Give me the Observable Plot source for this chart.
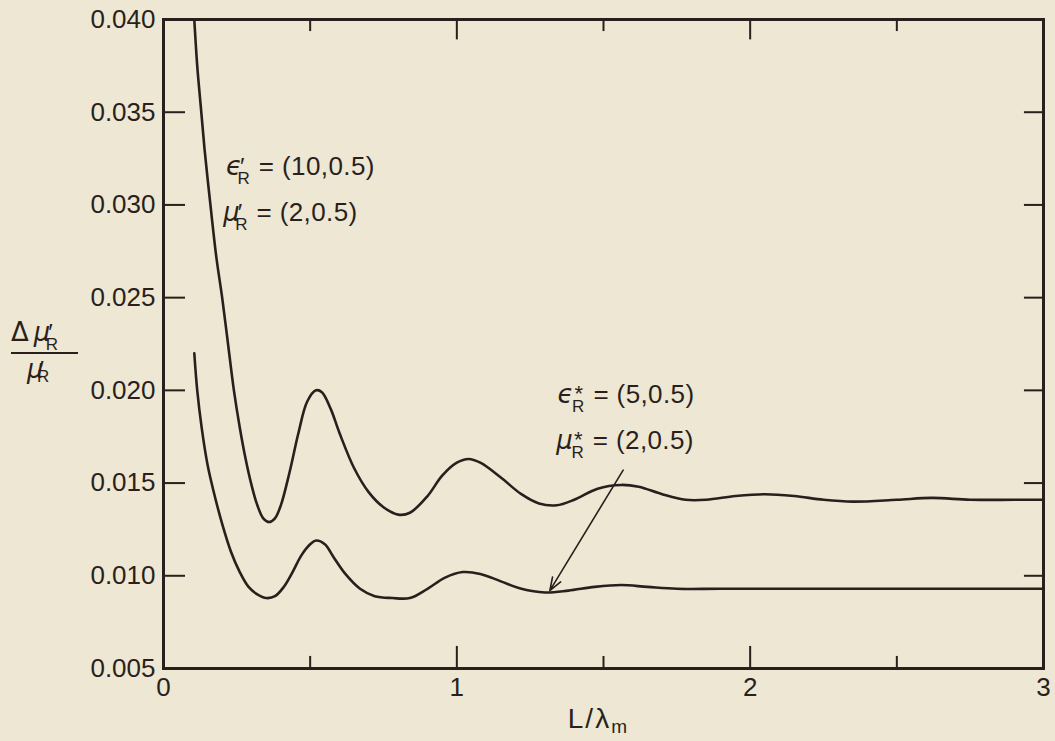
<!DOCTYPE html>
<html>
<head>
<meta charset="utf-8">
<script src="https://cdn.jsdelivr.net/npm/d3@7"></script>
<script src="https://cdn.jsdelivr.net/npm/@observablehq/plot@0.6"></script>
<style>
  html, body { margin: 0; padding: 0; background: #ede7d3; }
  #chart { width: 1055px; height: 741px; }
</style>
</head>
<body>
<div id="chart"></div>
<script>
// ---- data ----
const upperL = [0.105,0.115,0.126,0.14,0.16,0.18,0.20,0.22,0.24,0.26,0.28,0.30,0.32,0.34,0.36,0.38,0.40,0.43,0.46,0.49,0.52,0.54,0.57,0.60,0.65,0.70,0.75,0.80,0.84,0.90,0.95,1.00,1.04,1.08,1.15,1.22,1.28,1.34,1.40,1.48,1.56,1.62,1.70,1.78,1.85,1.95,2.05,2.15,2.25,2.35,2.50,2.62,2.75,2.90,3.00];
const upperV = [0.0400,0.0375,0.0355,0.0330,0.0300,0.0272,0.0250,0.0225,0.0200,0.0180,0.0163,0.0149,0.0138,0.0131,0.0129,0.0131,0.0138,0.0156,0.0177,0.0194,0.0200,0.0199,0.0190,0.0177,0.0158,0.0145,0.0137,0.0133,0.0134,0.0143,0.0154,0.0161,0.0163,0.0161,0.0153,0.0144,0.0139,0.0138,0.0141,0.0147,0.0149,0.0148,0.0144,0.0141,0.0141,0.0143,0.0144,0.0143,0.0141,0.0140,0.0141,0.0142,0.0141,0.0141,0.0141];

const lowerL = [0.105,0.115,0.13,0.15,0.17,0.20,0.23,0.26,0.29,0.32,0.35,0.38,0.41,0.44,0.47,0.50,0.52,0.55,0.58,0.62,0.67,0.72,0.78,0.84,0.90,0.96,1.02,1.08,1.15,1.22,1.30,1.38,1.47,1.56,1.65,1.75,1.90,2.20,2.60,3.00];
const lowerV = [0.0220,0.0200,0.0180,0.0160,0.0146,0.0128,0.0113,0.0102,0.0094,0.0090,0.0088,0.0089,0.0094,0.0102,0.0111,0.0117,0.0119,0.0117,0.0110,0.0101,0.0093,0.0089,0.0088,0.0088,0.0093,0.0099,0.0102,0.0101,0.0097,0.0093,0.0091,0.0092,0.0094,0.0095,0.0094,0.0093,0.0093,0.0093,0.0093,0.0093];

const yTicks = [0.005,0.010,0.015,0.020,0.025,0.030,0.035,0.040];
const xTickLabels = [0,1,2,3];
const xMajorTicks = [1,2];
const xMinorTicks = [0.5,1.5,2.5];

// arrow from the second annotation to the lower curve
const arrowFrom = [1.567, 0.0157];
const arrowTo = [1.317, 0.0092];

// annotation anchors (data coordinates, left/baseline)
const ann1 = [[0.215, 0.0316], [0.205, 0.0291]];
const ann2 = [[1.345, 0.0193], [1.341, 0.0168]];

const ink = "#2a1f1c";
const upper = upperL.map((L, i) => ({L, v: upperV[i]}));
const lower = lowerL.map((L, i) => ({L, v: lowerV[i]}));

const chart = Plot.plot({
  width: 1055,
  height: 741,
  marginLeft: 163,
  marginRight: 12,
  marginTop: 19,
  marginBottom: 73,
  x: {domain: [0, 3]},
  y: {domain: [0.005, 0.040]},
  style: {background: "#ede7d3", color: ink, fontFamily: "'Liberation Sans', Arial, sans-serif", fontSize: "26px"},
  marks: [
    Plot.axisY({ticks: yTicks, tickSize: 0, tickPadding: 8, tickFormat: d3.format(".3f"), fontSize: 26, label: null}),
    Plot.axisX({ticks: xTickLabels, tickSize: 0, tickPadding: 9, tickFormat: d => String(d), fontSize: 26, label: null}),
    // inward ticks, left and right
    Plot.ruleY(yTicks.slice(1, -1), {y: d => d, x1: 0, x2: 0.075, stroke: ink, strokeWidth: 2}),
    Plot.ruleY(yTicks.slice(1, -1), {y: d => d, x1: 3 - 0.065, x2: 3, stroke: ink, strokeWidth: 2}),
    // inward ticks, bottom and top
    Plot.ruleX(xMajorTicks, {x: d => d, y1: 0.005, y2: 0.005 + 0.00119, stroke: ink, strokeWidth: 2}),
    Plot.ruleX(xMinorTicks, {x: d => d, y1: 0.005, y2: 0.005 + 0.00065, stroke: ink, strokeWidth: 2}),
    Plot.ruleX(xMajorTicks, {x: d => d, y1: 0.040, y2: 0.040 - 0.00110, stroke: ink, strokeWidth: 2}),
    Plot.ruleX(xMinorTicks, {x: d => d, y1: 0.040, y2: 0.040 - 0.00065, stroke: ink, strokeWidth: 2}),
    Plot.line(upper, {x: "L", y: "v", curve: "catmull-rom", stroke: ink, strokeWidth: 2.6, clip: true}),
    Plot.line(lower, {x: "L", y: "v", curve: "catmull-rom", stroke: ink, strokeWidth: 2.6, clip: true}),
    Plot.arrow([{}], {x1: () => arrowFrom[0], y1: () => arrowFrom[1], x2: () => arrowTo[0], y2: () => arrowTo[1], stroke: ink, strokeWidth: 1.6, headLength: 13, headAngle: 40}),
    Plot.frame({stroke: ink, strokeWidth: 3})
  ]
});

document.getElementById("chart").appendChild(chart);

// ---- rich text (primes, asterisks, subscripts) ----
const sx = chart.scale("x").apply, sy = chart.scale("y").apply;
const svg = d3.select(chart);
const g = svg.append("g").attr("fill", ink).attr("text-anchor", "start")
  .style("font-family", "'Liberation Sans', Arial, sans-serif").style("font-size", "26px");

function rich(x, y, parts) {
  const t = g.append("text").attr("x", x).attr("y", y).attr("text-anchor", "start");
  for (const p of parts) {
    const s = t.append("tspan").text(p.t);
    if (p.dx != null) s.attr("dx", p.dx);
    if (p.dy != null) s.attr("dy", p.dy);
    if (p.size) s.style("font-size", p.size + "px");
    if (p.italic) s.style("font-style", "italic");
    if (p.family) s.style("font-family", p.family);
    if (p.ls) s.style("letter-spacing", p.ls + "px");
  }
  return t;
}

function sym(letter, mark, rest, italicFamily) {
  const star = mark === "*";
  return [
    {t: letter, italic: true, family: italicFamily},
    {t: mark, size: star ? 22 : 24, dx: star ? 1 : -2, dy: star ? -2 : 0},
    {t: "R", size: 17, dx: star ? -11 : -7, dy: star ? 11 : 9},
    {t: rest, dy: -9, dx: 9, ls: 0.4}
  ];
}

const gfam = "'DejaVu Sans', sans-serif";
rich(sx(ann1[0][0]), sy(ann1[0][1]), sym("ϵ", "′", "= (10,0.5)", gfam));
rich(sx(ann1[1][0]), sy(ann1[1][1]), sym("μ", "′", "= (2,0.5)", gfam));
rich(sx(ann2[0][0]), sy(ann2[0][1]), sym("ϵ", "*", "= (5,0.5)", gfam));
rich(sx(ann2[1][0]), sy(ann2[1][1]), sym("μ", "*", "= (2,0.5)", gfam));

// y-axis title: Δμ'R / μ'R as a fraction
const ml = 163;
rich(ml - 152, 341, [
  {t: "Δ", family: gfam},
  {t: "μ", italic: true, family: gfam, dx: 5},
  {t: "′", size: 24, dx: -2},
  {t: "R", size: 17, dx: -7, dy: 9}
]);
g.append("line").attr("x1", ml - 152).attr("x2", ml - 85).attr("y1", 353).attr("y2", 353)
  .attr("stroke", ink).attr("stroke-width", 2);
rich(ml - 136, 378, [
  {t: "μ", italic: true, family: gfam},
  {t: "′", size: 24, dx: -4},
  {t: "R", size: 17, dx: -7, dy: 4}
]);

// x-axis title: L/λm
rich(sx(1.38), 728, [
  {t: "L/λ", size: 28, ls: 2},
  {t: "m", size: 19, dy: 5}
]);
</script>
</body>
</html>
